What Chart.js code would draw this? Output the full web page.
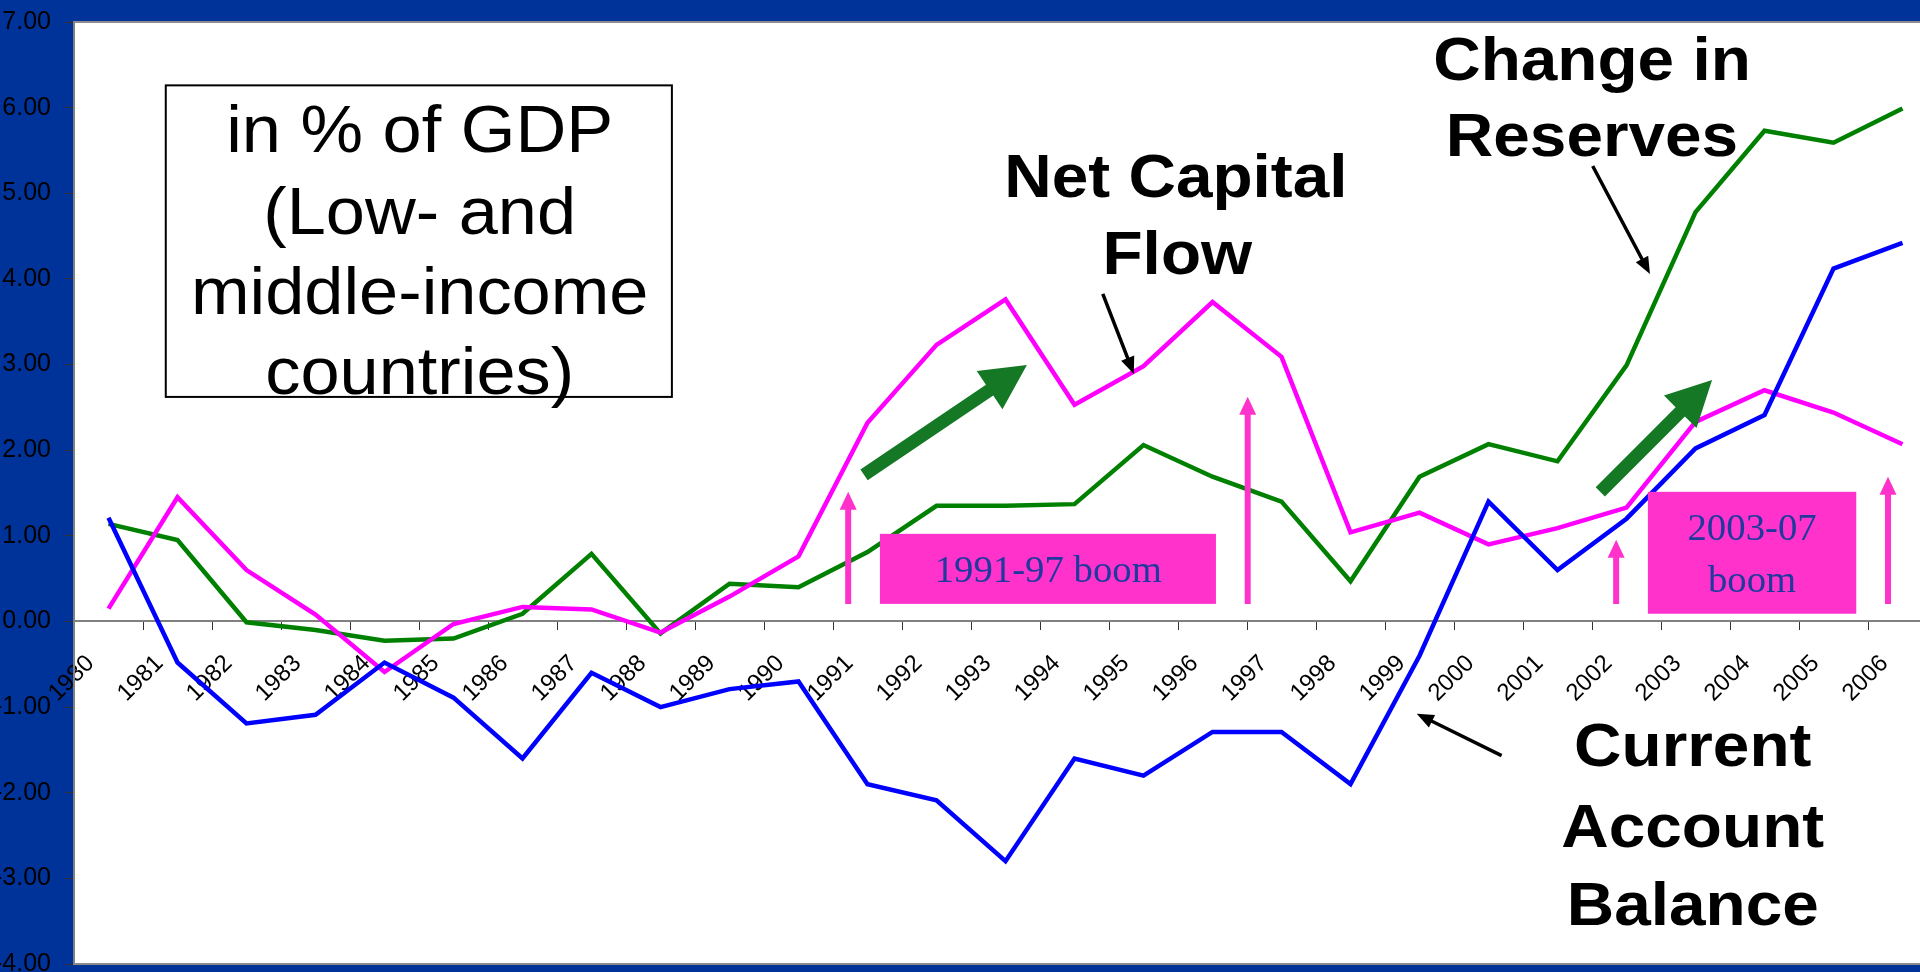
<!DOCTYPE html>
<html>
<head>
<meta charset="utf-8">
<title>Capital flows, reserves and current account</title>
<script src="https://cdn.jsdelivr.net/npm/chart.js@4.4.1/dist/chart.umd.min.js"></script>
<style>
  html, body { margin: 0; padding: 0; background: #003399; overflow: hidden; }
  #frame { width: 1920px; height: 972px; overflow: hidden; position: relative; }
  #box { width: 1940px; height: 972px; position: absolute; left: 0; top: 0; }
</style>
</head>
<body>
<div id="frame"><div id="box"><canvas id="chart"></canvas></div></div>
<script>
// Years on the category axis
const years = ['1980', '1981', '1982', '1983', '1984', '1985', '1986', '1987', '1988', '1989',
  '1990', '1991', '1992', '1993', '1994', '1995', '1996', '1997', '1998', '1999',
  '2000', '2001', '2002', '2003', '2004', '2005', '2006'];

// Series, in % of GDP
const currentAccount = [1.21, -0.48, -1.19, -1.09, -0.48, -0.89, -1.6, -0.6, -1.0, -0.79,
  -0.7, -1.9, -2.09, -2.8, -1.6, -1.8, -1.29, -1.29, -1.9, -0.4,
  1.4, 0.6, 1.2, 2.02, 2.41, 4.12, 4.42];
const netCapitalFlow = [0.15, 1.45, 0.6, 0.08, -0.59, -0.03, 0.17, 0.14, -0.13, 0.29,
  0.76, 2.32, 3.23, 3.76, 2.53, 2.98, 3.73, 3.09, 1.04, 1.27,
  0.9, 1.09, 1.33, 2.33, 2.7, 2.44, 2.07];
const changeInReserves = [1.14, 0.95, -0.01, -0.1, -0.225, -0.2, 0.09, 0.79, -0.14, 0.44,
  0.4, 0.81, 1.35, 1.35, 1.37, 2.06, 1.69, 1.4, 0.47, 1.69,
  2.07, 1.87, 2.99, 4.78, 5.73, 5.59, 5.99];

// Y axis range
const yMin = -4;
const yMax = 7;

// Annotations, in data units: [category index, value]
const boldLabels = [
  ['Net Capital', 15.47, 4.96], ['Flow', 15.49, 4.06],
  ['Change in', 21.5, 6.32], ['Reserves', 21.5, 5.44],
  ['Current', 22.96, -1.69], ['Account', 22.96, -2.63], ['Balance', 22.96, -3.55]
];
const unitBox = [0.83, 6.26, 8.165, 2.622];
const unitLines = [['in % of GDP', 4.51, 5.481], ['(Low- and', 4.51, 4.528], ['middle-income', 4.51, 3.595], ['countries)', 4.51, 2.66]];
const boomBoxes = [[11.18, 1.023, 16.05, 0.205], [22.31, 1.514, 25.33, 0.09]];
const boomLines = [['1991-97 boom', 13.62, 0.463], ['2003-07', 23.82, 0.953], ['boom', 23.82, 0.347]];
const upArrows = [[10.72, 0.205, 1.514], [16.51, 0.205, 2.623], [21.85, 0.205, 0.953], [25.79, 0.205, 1.689]];
const greenArrows = [[10.95, 1.712, 13.31, 2.995], [21.62, 1.514, 23.24, 2.82]];
const pointerArrows = [[14.41, 3.824, 14.86, 2.89], [21.51, 5.318, 22.34, 4.057], [20.19, -1.567, 18.96, -1.078]];

function fatArrow(ctx, x1, y1, x2, y2, shaft, headW, headL, color) {
  const ang = Math.atan2(y2 - y1, x2 - x1);
  const len = Math.hypot(x2 - x1, y2 - y1);
  ctx.save();
  ctx.translate(x1, y1);
  ctx.rotate(ang);
  ctx.beginPath();
  ctx.moveTo(0, -shaft / 2);
  ctx.lineTo(len - headL, -shaft / 2);
  ctx.lineTo(len - headL, -headW / 2);
  ctx.lineTo(len, 0);
  ctx.lineTo(len - headL, headW / 2);
  ctx.lineTo(len - headL, shaft / 2);
  ctx.lineTo(0, shaft / 2);
  ctx.closePath();
  ctx.fillStyle = color;
  ctx.fill();
  ctx.restore();
}

function stretchText(ctx, text, x, y, font, color, sx) {
  ctx.save();
  ctx.translate(x, y);
  ctx.scale(sx, 1);
  ctx.font = font;
  ctx.fillStyle = color;
  ctx.textAlign = 'center';
  ctx.textBaseline = 'alphabetic';
  ctx.fillText(text, 0, 0);
  ctx.restore();
}

const annotate = {
  id: 'annotate',
  beforeDraw(chart) {
    const { ctx, chartArea: a } = chart;
    ctx.save();
    ctx.fillStyle = '#ffffff';
    ctx.fillRect(a.left, a.top, a.right - a.left, a.bottom - a.top);
    ctx.restore();
  },
  afterDraw(chart) {
    const { ctx, chartArea: a } = chart;
    const X = v => chart.scales.x.getPixelForValue(v);
    const Y = v => chart.scales.y.getPixelForValue(v);

    // plot frame
    ctx.save();
    ctx.strokeStyle = '#8c8c8c';
    ctx.lineWidth = 2;
    ctx.beginPath();
    ctx.moveTo(a.left, a.top); ctx.lineTo(a.right, a.top);
    ctx.moveTo(a.left, a.bottom); ctx.lineTo(a.right, a.bottom);
    ctx.stroke();
    ctx.restore();

    // unit box
    const [bx1, by1, bx2, by2] = unitBox;
    ctx.save();
    ctx.fillStyle = '#ffffff';
    ctx.fillRect(X(bx1), Y(by1), X(bx2) - X(bx1), Y(by2) - Y(by1));
    ctx.strokeStyle = '#000000';
    ctx.lineWidth = 2;
    ctx.strokeRect(X(bx1), Y(by1), X(bx2) - X(bx1), Y(by2) - Y(by1));
    ctx.restore();
    unitLines.forEach(([t, i, v]) => stretchText(ctx, t, X(i), Y(v), '67px "Liberation Sans", Arial, sans-serif', '#000', 1.05));

    // green trend arrows
    greenArrows.forEach(([i1, v1, i2, v2]) => fatArrow(ctx, X(i1), Y(v1), X(i2), Y(v2), 13, 46, 45, '#157824'));

    // magenta up arrows
    upArrows.forEach(([i, v1, v2]) => fatArrow(ctx, X(i), Y(v1), X(i), Y(v2), 6, 17, 18, '#ff33cc'));

    // boom boxes
    boomBoxes.forEach(([x1, y1, x2, y2]) => {
      ctx.fillStyle = '#ff33cc';
      ctx.fillRect(X(x1), Y(y1), X(x2) - X(x1), Y(y2) - Y(y1));
    });
    boomLines.forEach(([t, i, v]) => stretchText(ctx, t, X(i), Y(v), '38px "Liberation Serif", "Times New Roman", serif', '#1f3a9c', 1.02));

    // black pointers
    pointerArrows.forEach(([i1, v1, i2, v2]) => fatArrow(ctx, X(i1), Y(v1), X(i2), Y(v2), 3.5, 14, 17, '#000000'));

    // series labels
    boldLabels.forEach(([t, i, v]) => stretchText(ctx, t, X(i), Y(v), 'bold 62px "Liberation Sans", Arial, sans-serif', '#000', 1.06));
  }
};

const ctx = document.getElementById('chart').getContext('2d');
new Chart(ctx, {
  type: 'line',
  data: {
    labels: years,
    datasets: [
      { label: 'Current Account Balance', data: currentAccount, borderColor: '#0000ff', borderWidth: 4.5 },
      { label: 'Net Capital Flow', data: netCapitalFlow, borderColor: '#ff00ff', borderWidth: 4.5 },
      { label: 'Change in Reserves', data: changeInReserves, borderColor: '#008000', borderWidth: 4.5 }
    ]
  },
  options: {
    responsive: true,
    maintainAspectRatio: false,
    animation: false,
    devicePixelRatio: 1,
    layout: { padding: { top: 22, bottom: 8, left: 0, right: 3 } },
    elements: {
      point: { radius: 0 },
      line: { tension: 0, borderJoinStyle: 'miter', fill: false }
    },
    plugins: {
      legend: { display: false },
      tooltip: { enabled: false }
    },
    scales: {
      x: {
        type: 'category',
        position: { y: 0 },
        offset: true,
        afterFit: scale => { scale.paddingLeft = 0; scale.paddingRight = 0; },
        grid: { offset: true, drawOnChartArea: false, drawTicks: true, tickLength: 8, color: '#333333', lineWidth: 1 },
        border: { display: true, color: '#808080', width: 2 },
        ticks: {
          autoSkip: false,
          maxRotation: 45,
          minRotation: 45,
          padding: 20,
          labelOffset: -18,
          color: '#000000',
          font: { family: '"Liberation Sans", Arial, sans-serif', size: 24 }
        }
      },
      y: {
        min: yMin,
        max: yMax,
        afterFit: scale => { scale.width = 74; scale.paddingTop = 0; scale.paddingBottom = 0; },
        grid: { drawOnChartArea: false, drawTicks: true, tickLength: 9, color: '#333333' },
        border: { display: true, color: '#808080', width: 2 },
        ticks: {
          stepSize: 1,
          padding: 14,
          color: '#000000',
          font: { family: '"Liberation Sans", Arial, sans-serif', size: 25 },
          callback: v => Number(v).toFixed(2)
        }
      }
    }
  },
  plugins: [annotate]
});
</script>
</body>
</html>
